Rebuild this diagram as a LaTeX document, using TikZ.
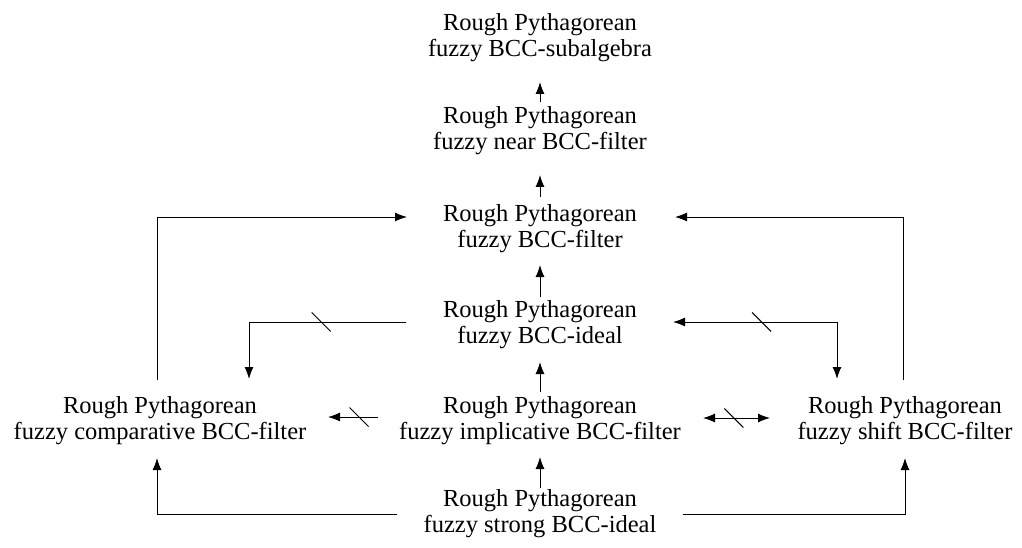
\documentclass[tikz,border=0pt]{standalone}
\usepackage{fontspec}
\setmainfont{Liberation Serif}
\usetikzlibrary{arrows.meta, calc}
\tikzset{>={Latex[length=12pt, width=9pt]}}
\tikzset{
  rpf/.style = {align=center, inner sep=0pt, font=\fontsize{24.5}{26}\selectfont},
  cut/.pic = {\draw[-] (-9.5,-9.5) -- (9.5,9.5);}
}

\begin{document}
\begin{tikzpicture}[x=1pt, y=-1pt, line width=1pt]
	\useasboundingbox (0,0) rectangle (1022,548);
	% the classes
	\node [rpf] (sub) at (540,38) {Rough Pythagorean\\fuzzy BCC-subalgebra};
	\node [rpf] (near) at (540,131) {Rough Pythagorean\\fuzzy near BCC-filter};
	\node [rpf] (filt) at (540,229) {Rough Pythagorean\\fuzzy BCC-filter};
	\node [rpf] (ideal) at (540,325) {Rough Pythagorean\\fuzzy BCC-ideal};
	\node [rpf] (impl) at (540,421) {Rough Pythagorean\\fuzzy implicative BCC-filter};
	\node [rpf] (strong) at (540,514) {Rough Pythagorean\\fuzzy strong BCC-ideal};
	\node [rpf] (comp) at (160,421) {Rough Pythagorean\\fuzzy comparative BCC-filter};
	\node [rpf] (shift) at (905,421) {Rough Pythagorean\\fuzzy shift BCC-filter};
	% middle column
	\draw [->] ($(near)+(0,-29)$) -- ($(sub)+(0,44)$);
	\draw [->] ($(filt)+(0,-32)$) -- ($(near)+(0,44)$);
	\draw [->] ($(ideal)+(0,-28)$) -- ($(filt)+(0,36)$);
	\draw [->] ($(impl)+(0,-29)$) -- ($(ideal)+(0,37)$);
	\draw [->] ($(strong)+(0,-26)$) -- ($(impl)+(0,36)$);
	% to the filter
	\draw [->] ($(comp)+(-3,-41)$) |- ($(filt)+(-133,-12)$);
	\draw [->] ($(shift)+(-2,-41)$) |- ($(filt)+(135,-12)$);
	% from the ideal
	\draw [->] ($(ideal)+(-134,-3)$) -| ($(comp)+(89,-42)$) pic [pos=0.27] {cut};
	\draw [<->] ($(ideal)+(133,-3)$) -| ($(shift)+(-68,-42)$) pic [pos=0.27] {cut};
	% beside the implicative one
	\draw [->] ($(impl)+(-162,-4)$) -- ($(comp)+(168,-4)$) pic [pos=0.38] {cut};
	\draw [<->] ($(impl)+(163,-3)$) -- ($(shift)+(-135,-3)$) pic [pos=0.46] {cut};
	% from the strong ideal
	\draw [->] ($(strong)+(-143,0)$) -| ($(comp)+(-3,37)$);
	\draw [->] ($(strong)+(143,0)$) -| ($(shift)+(0,37)$);
\end{tikzpicture}
\end{document}
